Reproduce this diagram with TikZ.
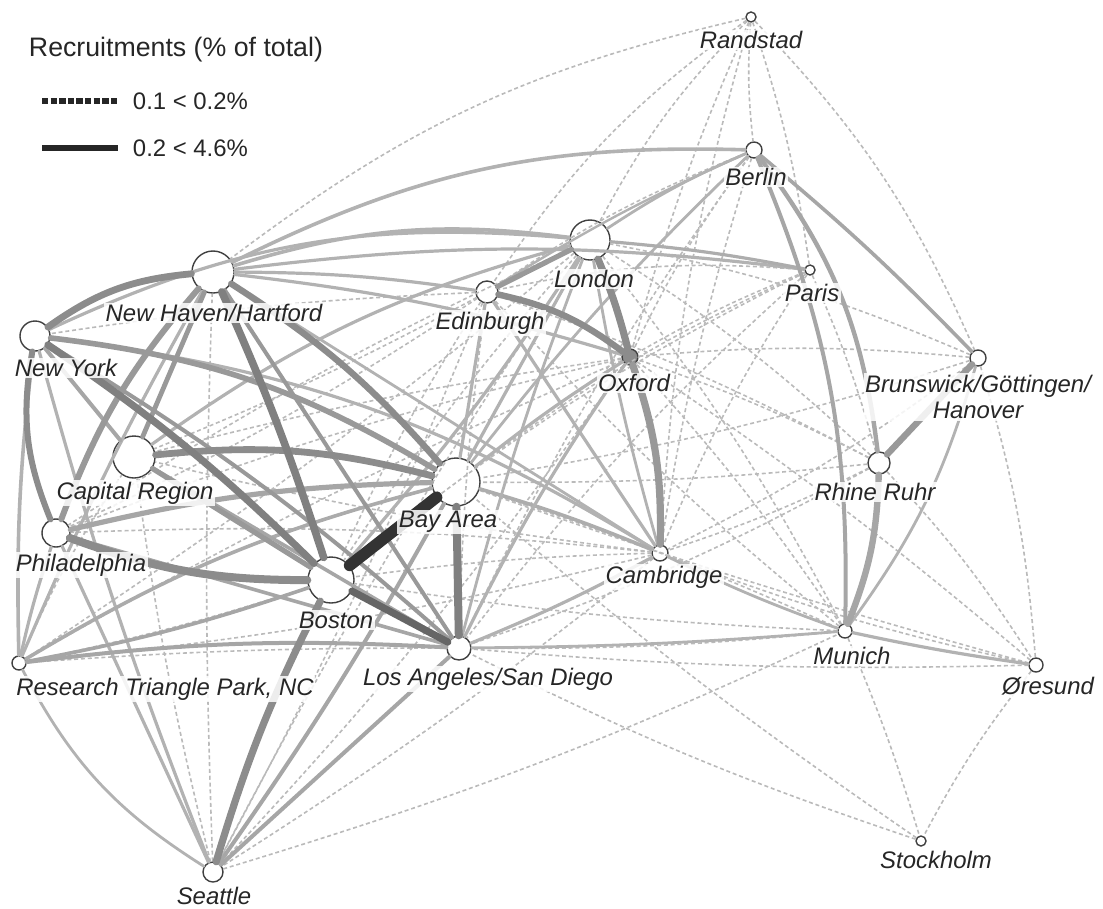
\documentclass[tikz,border=0pt]{standalone}
\usepackage{fontspec}
\setmainfont{Liberation Sans}
\usetikzlibrary{calc}
\tikzset{
	city/.style={circle, draw=black!75, line width=0.35mm, fill=white, inner sep=0pt},
	tag/.style={font=\fontsize{17}{19}\selectfont\itshape, text=black!85, fill=white, fill opacity=0.85, text opacity=1, inner sep=1pt, align=center},
	weak/.style={dash pattern=on 1mm off 0.7mm, line width=0.4mm, color=black!27},
	strong/.style={line cap=round}
}

\begin{document}
\begin{tikzpicture}[x=0.025cm, y=-0.025cm]
		%%%%% START %%%%%
		\useasboundingbox (0, 0) rectangle (1103, 908);
		
		% regions
		\node[city, minimum size=0.25cm] (rand) at (751, 17) {};
		\node[city, minimum size=0.4cm] (berl) at (754, 150) {};
		\node[city, minimum size=0.25cm] (pari) at (810, 270) {};
		\node[city, minimum size=1.0cm] (lond) at (590, 240) {};
		\node[city, minimum size=0.55cm] (edin) at (487, 292) {};
		\node[city, minimum size=1.05cm] (nhh) at (213, 272) {};
		\node[city, minimum size=0.75cm] (ny) at (35, 336) {};
		\node[city, minimum size=0.4cm, fill=black!45] (oxf) at (630, 357) {};
		\node[city, minimum size=0.4cm] (bgh) at (978, 358) {};
		\node[city, minimum size=1.05cm] (cap) at (134, 457) {};
		\node[city, minimum size=0.55cm] (rr) at (879, 463) {};
		\node[city, minimum size=1.2cm] (bay) at (456, 482) {};
		\node[city, minimum size=0.7cm] (phil) at (56, 533) {};
		\node[city, minimum size=0.4cm] (camb) at (660, 553) {};
		\node[city, minimum size=1.15cm] (bos) at (331, 580) {};
		\node[city, minimum size=0.35cm] (mun) at (845, 631) {};
		\node[city, minimum size=0.6cm] (la) at (459, 648) {};
		\node[city, minimum size=0.35cm] (rtp) at (19, 663) {};
		\node[city, minimum size=0.35cm] (ore) at (1036, 665) {};
		\node[city, minimum size=0.25cm] (stock) at (921, 841) {};
		\node[city, minimum size=0.5cm] (sea) at (213, 872) {};
		
		% 0.1 < 0.2%
		\draw[weak] (rand) to[bend right=5] (berl);
		\draw[weak] (rand) to[bend right=8] (lond);
		\draw[weak] (rand) to[bend right=10] (edin);
		\draw[weak] (rand) to[bend right=12] (nhh);
		\draw[weak] (rand) to[bend left=10] (bgh);
		\draw[weak] (rand) to[bend left=5] (pari);
		\draw[weak] (rand) to[bend right=4] (oxf);
		\draw[weak] (rand) to[bend right=6] (camb);
		\draw[weak] (berl) to[bend right=5] (oxf);
		\draw[weak] (berl) to[bend right=4] (camb);
		\draw[weak] (berl) to[bend right=6] (edin);
		\draw[weak] (berl) to[bend right=5] (la);
		\draw[weak] (pari) to[bend right=4] (oxf);
		\draw[weak] (pari) to[bend right=5] (camb);
		\draw[weak] (pari) to[bend right=6] (bay);
		\draw[weak] (pari) to[bend right=5] (la);
		\draw[weak] (pari) to[bend left=4] (rr);
		\draw[weak] (pari) to[bend right=8] (edin);
		\draw[weak] (pari) to[bend right=6] (bos);
		\draw[weak] (bgh) to[bend right=5] (oxf);
		\draw[weak] (bgh) to[bend left=5] (camb);
		\draw[weak] (bgh) to[bend right=6] (lond);
		\draw[weak] (bgh) to[bend left=6] (ore);
		\draw[weak] (bgh) to[bend left=4] (bay);
		\draw[weak] (rr) to[bend right=4] (oxf);
		\draw[weak] (rr) to[bend left=4] (camb);
		\draw[weak] (rr) to[bend right=5] (lond);
		\draw[weak] (rr) to[bend left=5] (la);
		\draw[weak] (rr) to[bend left=3] (bay);
		\draw[weak] (rr) to[bend left=5] (ore);
		\draw[weak] (rr) to[bend right=4] (edin);
		\draw[weak] (mun) to[bend right=4] (oxf);
		\draw[weak] (mun) to[bend right=5] (lond);
		\draw[weak] (mun) to[bend right=3] (bay);
		\draw[weak] (mun) to[bend left=3] (la);
		\draw[weak] (mun) to[bend left=3] (stock);
		\draw[weak] (mun) to[bend left=3] (bos);
		\draw[weak] (mun) to[bend left=4] (edin);
		\draw[weak] (ore) to[bend right=5] (stock);
		\draw[weak] (ore) to[bend left=3] (la);
		\draw[weak] (ore) to[bend left=4] (camb);
		\draw[weak] (ore) to[bend right=3] (oxf);
		\draw[weak] (ore) to[bend left=2] (bay);
		\draw[weak] (stock) to[bend left=3] (bay);
		\draw[weak] (stock) to[bend left=4] (la);
		\draw[weak] (camb) to[bend right=3] (bos);
		\draw[weak] (camb) to[bend right=4] (phil);
		\draw[weak] (camb) to[bend left=3] (cap);
		\draw[weak] (camb) to[bend left=4] (rtp);
		\draw[weak] (camb) to[bend left=3] (sea);
		\draw[weak] (oxf) to[bend right=3] (rtp);
		\draw[weak] (oxf) to[bend right=4] (phil);
		\draw[weak] (oxf) to[bend right=3] (cap);
		\draw[weak] (oxf) to[bend left=4] (sea);
		\draw[weak] (edin) to[bend right=4] (bos);
		\draw[weak] (edin) to[bend left=3] (cap);
		\draw[weak] (edin) to[bend right=3] (ny);
		\draw[weak] (edin) to[bend left=4] (phil);
		\draw[weak] (edin) to[bend right=3] (la);
		\draw[weak] (edin) to[bend left=3] (sea);
		\draw[weak] (lond) to[bend right=4] (phil);
		\draw[weak] (lond) to[bend left=3] (rtp);
		\draw[weak] (lond) to[bend right=3] (sea);
		\draw[weak] (lond) to[bend right=4] (bos);
		\draw[weak] (sea) to[bend right=4] (mun);
		\draw[weak] (sea) to[bend left=2] (nhh);
		\draw[weak] (sea) to[bend left=3] (cap);
		\draw[weak] (rtp) to[bend left=5] (cap);
		\draw[weak] (rtp) to[bend right=3] (bos);
		\draw[weak] (rtp) to[bend left=2] (la);
		
		% 0.2 < 4.6%
		\draw[strong, line width=0.7mm, color=black!30] (rtp) to[bend right=15] (sea);
		\draw[strong, line width=0.8mm, color=black!30] (ny) to[bend left=15] (lond);
		\draw[strong, line width=0.8mm, color=black!30] (ny) to[bend left=12] (camb);
		\draw[strong, line width=0.9mm, color=black!30] (ny) to[bend right=4] (rtp);
		\draw[strong, line width=0.8mm, color=black!30] (ny) to[bend right=3] (sea);
		\draw[strong, line width=0.9mm, color=black!30] (nhh) to[bend left=12] (lond);
		\draw[strong, line width=0.9mm, color=black!30] (nhh) to[bend left=14] (berl);
		\draw[strong, line width=0.8mm, color=black!30] (nhh) to[bend left=7] (pari);
		\draw[strong, line width=0.8mm, color=black!30] (nhh) to[bend left=5] (oxf);
		\draw[strong, line width=0.8mm, color=black!30] (nhh) to[bend left=4] (edin);
		\draw[strong, line width=0.7mm, color=black!30] (nhh) to (camb);
		\draw[strong, line width=0.8mm, color=black!30] (nhh) to[bend right=3] (rtp);
		\draw[strong, line width=0.8mm, color=black!30] (cap) to[bend left=10] (lond);
		\draw[strong, line width=0.8mm, color=black!30] (phil) to[bend right=3] (rtp);
		\draw[strong, line width=0.8mm, color=black!30] (phil) to (sea);
		\draw[strong, line width=0.8mm, color=black!30] (bos) to[bend right=4] (lond);
		\draw[strong, line width=0.9mm, color=black!33] (bay) to[bend right=8] (rtp);
		\draw[strong, line width=0.8mm, color=black!30] (bay) to (lond);
		\draw[strong, line width=0.8mm, color=black!30] (bay) to[bend left=3] (oxf);
		\draw[strong, line width=0.8mm, color=black!30] (bay) to (edin);
		\draw[strong, line width=0.9mm, color=black!32] (bay) to[bend left=3] (camb);
		\draw[strong, line width=0.7mm, color=black!30] (bay) to[bend left=4] (berl);
		\draw[strong, line width=0.8mm, color=black!30] (la) to[bend right=3] (camb);
		\draw[strong, line width=0.8mm, color=black!30] (la) to[bend left=4] (oxf);
		\draw[strong, line width=0.7mm, color=black!30] (la) to[bend left=3] (lond);
		\draw[strong, line width=0.7mm, color=black!30] (la) to[bend right=2] (mun);
		\draw[strong, line width=0.7mm, color=black!30] (lond) to[bend right=3] (camb);
		\draw[strong, line width=0.8mm, color=black!30] (edin) to (camb);
		\draw[strong, line width=0.8mm, color=black!32] (lond) to[bend left=3] (pari);
		\draw[strong, line width=0.7mm, color=black!30] (lond) to[bend left=5] (berl);
		\draw[strong, line width=0.6mm, color=black!30] (edin) to[bend left=4] (berl);
		\draw[strong, line width=0.7mm, color=black!30] (camb) to[bend right=3] (mun);
		\draw[strong, line width=0.8mm, color=black!30] (mun) to[bend right=2] (ore);
		\draw[strong, line width=0.7mm, color=black!30] (bgh) to[bend left=10] (mun);
		\draw[strong, line width=0.9mm, color=black!35] (berl) to[bend left=3] (bgh);
		\draw[strong, line width=1.0mm, color=black!35] (berl) to[bend left=12] (mun);
		\draw[strong, line width=1.1mm, color=black!35] (berl) to[bend left=15] (rr);
		\draw[strong, line width=1.6mm, color=black!35] (rr) to[bend left=10] (mun);
		\draw[strong, line width=1.6mm, color=black!40] (bgh) to (rr);
		
		\draw[strong, line width=1.3mm, color=black!40] (lond) to (edin);
		\draw[strong, line width=1.8mm, color=black!45] (lond) to[bend left=4] (oxf);
		\draw[strong, line width=1.6mm, color=black!45] (edin) to[bend left=12] (oxf);
		\draw[strong, line width=1.8mm, color=black!40] (oxf) to[bend left=10] (camb);
		
		\draw[strong, line width=1.0mm, color=black!35] (la) to (sea);
		\draw[strong, line width=1.0mm, color=black!35] (la) to[bend right=5] (rtp);
		\draw[strong, line width=1.0mm, color=black!35] (bay) to[bend left=3] (sea);
		\draw[strong, line width=0.9mm, color=black!35] (bos) to[bend left=4] (rtp);
		\draw[strong, line width=0.9mm, color=black!35] (phil) to (la);
		\draw[strong, line width=0.9mm, color=black!35] (cap) to (la);
		\draw[strong, line width=1.0mm, color=black!35] (ny) to (cap);
		\draw[strong, line width=1.3mm, color=black!35] (phil) to[bend left=6] (bay);
		\draw[strong, line width=1.0mm, color=black!40] (ny) to[bend left=5] (la);
		\draw[strong, line width=1.0mm, color=black!40] (nhh) to (la);
		\draw[strong, line width=1.2mm, color=black!40] (nhh) to (cap);
		\draw[strong, line width=1.3mm, color=black!40] (cap) to (bos);
		\draw[strong, line width=1.5mm, color=black!40] (nhh) to[bend right=10] (phil);
		\draw[strong, line width=1.4mm, color=black!40] (ny) to[bend left=12] (bay);
		\draw[strong, line width=1.5mm, color=black!45] (ny) to[bend right=16] (phil);
		\draw[strong, line width=1.7mm, color=black!45] (ny) to[bend left=15] (nhh);
		\draw[strong, line width=1.7mm, color=black!45] (cap) to[bend left=10] (bay);
		\draw[strong, line width=1.6mm, color=black!45] (nhh) to[bend left=8] (bay);
		\draw[strong, line width=2.0mm, color=black!45] (phil) to[bend right=10] (bos);
		\draw[strong, line width=1.8mm, color=black!45] (bos) to[bend right=5] (sea);
		\draw[strong, line width=1.8mm, color=black!50] (ny) to[bend left=5] (bos);
		\draw[strong, line width=1.9mm, color=black!50] (nhh) to[bend left=3] (bos);
		\draw[strong, line width=2.0mm, color=black!50] (bay) to (la);
		\draw[strong, line width=1.8mm, color=black!60] (bos) to (la);
		\draw[strong, line width=2.9mm, color=black!80] (bos) to (bay);
		
		% names
		\node[tag] (rand-l) at (751, 40) {Randstad};
		\node[tag] (berl-l) at (756, 177) {Berlin};
		\node[tag] (pari-l) at (812, 293) {Paris};
		\node[tag] (lond-l) at (594, 279) {London};
		\node[tag] (edin-l) at (490, 323) {Edinburgh};
		\node[tag] (nhh-l) at (214, 313) {New Haven/Hartford};
		\node[tag] (ny-l) at (66, 368) {New York};
		\node[tag] (oxf-l) at (634, 383) {Oxford};
		\node[tag] (bgh-l) at (978, 397) {Brunswick/Göttingen/\\Hanover};
		\node[tag] (cap-l) at (135, 493) {Capital Region};
		\node[tag] (rr-l) at (875, 492) {Rhine Ruhr};
		\node[tag] (bay-l) at (448, 522) {Bay Area};
		\node[tag] (phil-l) at (81, 565) {Philadelphia};
		\node[tag] (camb-l) at (664, 577) {Cambridge};
		\node[tag] (bos-l) at (336, 620) {Boston};
		\node[tag] (mun-l) at (852, 656) {Munich};
		\node[tag] (la-l) at (488, 679) {Los Angeles/San Diego};
		\node[tag] (rtp-l) at (165, 689) {Research Triangle Park, NC};
		\node[tag] (ore-l) at (1048, 686) {Øresund};
		\node[tag] (stock-l) at (936, 860) {Stockholm};
		\node[tag] (sea-l) at (214, 896) {Seattle};
		
		% legend
		\node[anchor=west, font=\fontsize{19}{22}\selectfont, text=black!85] (title) at (24, 50) {Recruitments (\% of total)};
		\coordinate (k1a) at (42, 101);
		\coordinate (k1b) at (118, 101);
		\coordinate (k2a) at (42, 148);
		\coordinate (k2b) at (118, 148);
		\draw[line width=1.4mm, color=black!85, dash pattern=on 1.6mm off 0.55mm] (k1a) -- (k1b);
		\draw[line width=1.5mm, color=black!85] (k2a) -- (k2b);
		\node[anchor=west, font=\fontsize{17}{19}\selectfont, text=black!85] (k1-l) at (128, 101) {0.1 < 0.2\%};
		\node[anchor=west, font=\fontsize{17}{19}\selectfont, text=black!85] (k2-l) at (128, 148) {0.2 < 4.6\%};
		
		%%%%% END %%%%%
	\end{tikzpicture}
\end{document}
